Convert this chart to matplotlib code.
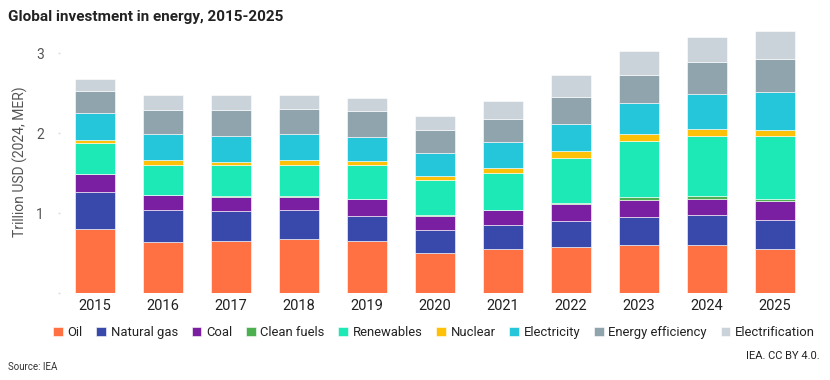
import matplotlib.pyplot as plt
import numpy as np

plt.rcParams['font.family'] = ['Roboto', 'DejaVu Sans']

anios = ["2015", "2016", "2017", "2018", "2019", "2020", "2021", "2022", "2023", "2024", "2025"]

categorias = ["Oil", "Natural gas", "Coal", "Clean fuels", "Renewables", "Nuclear",
              "Electricity", "Energy efficiency", "Electrification"]
colores = ["#FF7043", "#3949AB", "#7B1FA2", "#4CAF50", "#1DE9B6", "#FFC107",
           "#26C6DA", "#90A4AE", "#C9D3D9"]

oil = [0.81, 0.64, 0.66, 0.68, 0.65, 0.51, 0.55, 0.58, 0.60, 0.60, 0.555]
natural_gas = [0.456, 0.40, 0.37, 0.36, 0.32, 0.28, 0.30, 0.33, 0.355, 0.375, 0.36]
coal = [0.225, 0.19, 0.18, 0.17, 0.21, 0.18, 0.19, 0.21, 0.215, 0.21, 0.24]
clean_fuels = [0.004, 0.004, 0.004, 0.004, 0.004, 0.005, 0.006, 0.01, 0.035, 0.035, 0.03]
renewables = [0.38, 0.375, 0.385, 0.395, 0.42, 0.44, 0.455, 0.565, 0.705, 0.745, 0.78]
nuclear = [0.045, 0.06, 0.045, 0.06, 0.05, 0.05, 0.065, 0.085, 0.085, 0.09, 0.08]
electricity = [0.33, 0.325, 0.32, 0.325, 0.30, 0.29, 0.32, 0.335, 0.385, 0.44, 0.475]
energy_efficiency = [0.275, 0.30, 0.33, 0.31, 0.33, 0.285, 0.29, 0.335, 0.35, 0.40, 0.41]
electrification = [0.155, 0.18, 0.18, 0.17, 0.155, 0.18, 0.23, 0.275, 0.295, 0.31, 0.345]

series = [oil, natural_gas, coal, clean_fuels, renewables, nuclear,
          electricity, energy_efficiency, electrification]

fig = plt.figure(figsize=(8.3, 3.8), dpi=100)
ax = fig.add_axes([0.0723, 0.228, 0.9012, 0.695])

x = np.arange(len(anios))
base = np.zeros(len(anios))
for nombre, valores, color in zip(categorias, series, colores):
    ax.bar(x, valores, bottom=base, width=0.59, color=color, label=nombre,
           edgecolor="white", linewidth=0.4)
    base += np.array(valores)

ax.set_xlim(-0.515, 10.49)
ax.set_ylim(0, 3.3)
ax.set_yticks([0, 1, 2, 3])
ax.set_yticklabels(["", "1", "2", "3"])
ax.set_xticks(x)
ax.set_xticklabels(anios, fontsize=10.5)
for s in ax.spines.values():
    s.set_visible(False)
ax.tick_params(axis="y", length=1.5, width=1, color="#dddddd", labelsize=10,
               labelcolor="#555555", pad=10)
ax.tick_params(axis="x", length=0, labelcolor="#222222", pad=4)
ax.set_ylabel("Trillion USD (2024, MER)", fontsize=10, color="#555555", labelpad=6)

fig.text(0.0096, 0.955, "Global investment in energy, 2015-2025", fontsize=11,
         fontweight="bold", color="#222222", va="center")

ax.legend(loc="center", bbox_to_anchor=(0.5, -0.148), ncol=9, frameon=False,
          fontsize=9.4, handlelength=0.75, handleheight=0.75,
          handletextpad=0.35, columnspacing=1.05, labelcolor="#222222")

fig.text(0.0096, 0.035, "Source: IEA", fontsize=7, color="#333333", va="center")
fig.text(0.988, 0.063, "IEA. CC BY 4.0.", fontsize=8, color="#222222",
         va="center", ha="right")

plt.savefig("out.png", dpi=100)
